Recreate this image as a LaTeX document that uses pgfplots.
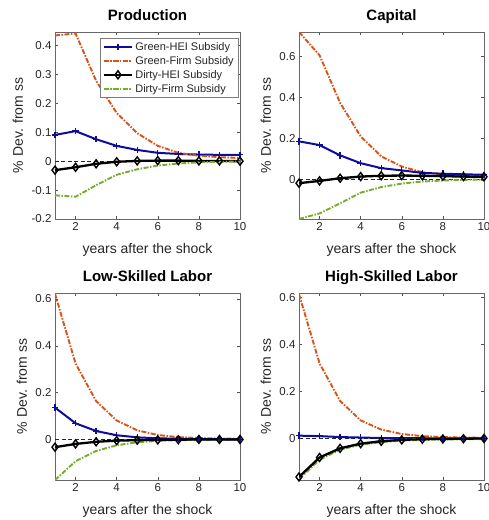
\documentclass[border=0pt]{standalone}
\usepackage{pgfplots}
\pgfplotsset{compat=1.18}
\usepackage{fontspec}
\setmainfont{Liberation Sans}
\definecolor{mblue}{rgb}{0.05,0.05,0.6}
\definecolor{morange}{rgb}{0.85,0.325,0.098}
\definecolor{mgreen}{rgb}{0.466,0.674,0.188}
\definecolor{axgray}{rgb}{0.15,0.15,0.15}
\pgfplotsset{
  irf/.style={
    scale only axis, width=185pt, height=187pt,
    anchor=north west,
    xmin=1, xmax=10, xtick={2,4,6,8,10},
    axis line style={axgray!70, line width=0.5pt},
    tick style={axgray!80, line width=0.4pt},
    major tick length=3pt,
    tick label style={font=\fontsize{11.5}{13}\selectfont, text=axgray},
    /pgf/number format/assume math mode=true,
    yticklabel style={/pgf/number format/fixed, /pgf/number format/precision=1},
    title style={font=\fontsize{15}{17}\selectfont\bfseries, at={(axis description cs:0.5,1)}, anchor=base, yshift=6pt},
    xlabel={years after the shock},
    ylabel={\% Dev. from ss},
    label style={font=\fontsize{14}{16}\selectfont, text=axgray},
    xlabel style={at={(axis description cs:0.5,0)}, anchor=base, yshift=-34pt},
    ylabel style={inner sep=1pt},
    ylabel shift=4pt,
    clip=true,
  },
  gh/.style={mblue, line width=2pt, mark=+, mark size=3.2pt, mark options={line width=1.3pt}},
  gf/.style={morange, line width=1.9pt, dash pattern=on 5pt off 1.5pt on 1.5pt off 1.5pt},
  dh/.style={black, line width=2.3pt, mark=diamond, mark size=4pt, mark options={line width=1.4pt}},
  df/.style={mgreen, line width=1.9pt, dash pattern=on 5pt off 1.5pt on 1.5pt off 1.5pt},
  zl/.style={black!85, line width=0.8pt, dash pattern=on 4pt off 2.5pt},
}
\begin{document}
\begin{tikzpicture}
\useasboundingbox (0,0) rectangle (489pt,-520pt);
% Production
\begin{axis}[irf, at={(55pt,-32pt)}, title={Production},
  ymin=-0.2, ymax=0.447, ytick={-0.2,-0.1,0,0.1,0.2,0.3,0.4},
  legend style={at={(0.989,0.968)}, anchor=north east, font=\fontsize{11}{12.5}\selectfont,
    draw=axgray!60, inner sep=2pt, row sep=0.5pt, text=axgray},
  legend cell align=left,
  legend image code/.code={\draw[mark repeat=2,mark phase=2] plot coordinates {(0cm,0cm) (0.5cm,0cm) (1cm,0cm)};}]
\addplot[zl, forget plot] coordinates {(1,0) (10,0)};
\addplot[gh] coordinates {(1,0.091)(2,0.104)(3,0.076)(4,0.053)(5,0.039)(6,0.029)(7,0.025)(8,0.023)(9,0.022)(10,0.022)};
\addlegendentry{Green-HEI Subsidy}
\addplot[gf] coordinates {(1,0.435)(2,0.442)(3,0.278)(4,0.167)(5,0.097)(6,0.053)(7,0.029)(8,0.019)(9,0.014)(10,0.011)};
\addlegendentry{Green-Firm Subsidy}
\addplot[dh] coordinates {(1,-0.031)(2,-0.021)(3,-0.009)(4,-0.002)(5,0.001)(6,0.002)(7,0.002)(8,0.001)(9,0.001)(10,0.0)};
\addlegendentry{Dirty-HEI Subsidy}
\addplot[df] coordinates {(1,-0.118)(2,-0.123)(3,-0.083)(4,-0.047)(5,-0.028)(6,-0.015)(7,-0.008)(8,-0.004)(9,-0.002)(10,-0.001)};
\addlegendentry{Dirty-Firm Subsidy}
\end{axis}
% Capital
\begin{axis}[irf, at={(299pt,-32pt)}, title={Capital},
  ymin=-0.19, ymax=0.718, ytick={0,0.2,0.4,0.6}]
\addplot[zl] coordinates {(1,0) (10,0)};
\addplot[gf] coordinates {(1,0.718)(2,0.605)(3,0.374)(4,0.211)(5,0.114)(6,0.065)(7,0.037)(8,0.026)(9,0.021)(10,0.018)};
\addplot[df] coordinates {(1,-0.19)(2,-0.163)(3,-0.114)(4,-0.062)(5,-0.035)(6,-0.018)(7,-0.008)(8,-0.003)(9,0.0)(10,0.002)};
\addplot[gh] coordinates {(1,0.187)(2,0.169)(3,0.119)(4,0.081)(5,0.057)(6,0.046)(7,0.034)(8,0.030)(9,0.027)(10,0.025)};
\addplot[dh] coordinates {(1,-0.016)(2,-0.005)(3,0.008)(4,0.016)(5,0.020)(6,0.021)(7,0.020)(8,0.018)(9,0.016)(10,0.015)};
\end{axis}
% Low-skilled
\begin{axis}[irf, at={(55pt,-293pt)}, title={Low-Skilled Labor},
  ymin=-0.173, ymax=0.625, ytick={0,0.2,0.4,0.6}]
\addplot[zl] coordinates {(1,0) (10,0)};
\addplot[gf] coordinates {(1,0.622)(2,0.324)(3,0.164)(4,0.081)(5,0.039)(6,0.019)(7,0.010)(8,0.006)(9,0.004)(10,0.003)};
\addplot[df] coordinates {(1,-0.173)(2,-0.093)(3,-0.049)(4,-0.025)(5,-0.012)(6,-0.006)(7,-0.003)(8,-0.002)(9,-0.001)(10,0.0)};
\addplot[gh] coordinates {(1,0.136)(2,0.069)(3,0.036)(4,0.018)(5,0.009)(6,0.005)(7,0.003)(8,0.001)(9,0.001)(10,0.0)};
\addplot[dh] coordinates {(1,-0.033)(2,-0.019)(3,-0.010)(4,-0.005)(5,-0.003)(6,-0.002)(7,-0.001)(8,0.0)(9,0.0)(10,0.0)};
\end{axis}
% High-skilled
\begin{axis}[irf, at={(299pt,-293pt)}, title={High-Skilled Labor},
  ymin=-0.177, ymax=0.62, ytick={0,0.2,0.4,0.6}]
\addplot[zl] coordinates {(1,0) (10,0)};
\addplot[gf] coordinates {(1,0.615)(2,0.320)(3,0.160)(4,0.077)(5,0.038)(6,0.019)(7,0.010)(8,0.006)(9,0.004)(10,0.003)};
\addplot[gh] coordinates {(1,0.012)(2,0.010)(3,0.006)(4,0.004)(5,0.002)(6,0.001)(7,0.001)(8,0.0)(9,0.0)(10,0.0)};
\addplot[df, line width=3pt] coordinates {(1,-0.170)(2,-0.088)(3,-0.045)(4,-0.024)(5,-0.013)(6,-0.007)(7,-0.004)(8,-0.002)(9,-0.001)(10,0.0)};
\addplot[dh] coordinates {(1,-0.164)(2,-0.081)(3,-0.042)(4,-0.022)(5,-0.012)(6,-0.006)(7,-0.003)(8,-0.002)(9,-0.001)(10,0.0)};
\end{axis}
\end{tikzpicture}
\end{document}
